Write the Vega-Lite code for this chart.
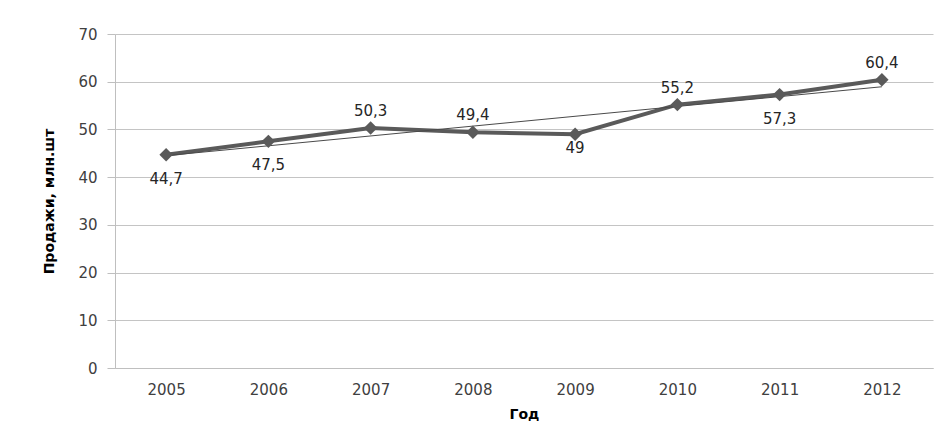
{
  "$schema": "https://vega.github.io/schema/vega-lite/v6.json",
  "width": 818,
  "height": 334,
  "autosize": {"type": "none"},
  "padding": {"left": 115, "top": 34, "right": 15, "bottom": 73},
  "background": "white",
  "data": {
    "values": [
      {"year": 2005, "sales": 44.7, "label": "44,7", "side": "below"},
      {"year": 2006, "sales": 47.5, "label": "47,5", "side": "below"},
      {"year": 2007, "sales": 50.3, "label": "50,3", "side": "above"},
      {"year": 2008, "sales": 49.4, "label": "49,4", "side": "above"},
      {"year": 2009, "sales": 49, "label": "49", "side": "near"},
      {"year": 2010, "sales": 55.2, "label": "55,2", "side": "above"},
      {"year": 2011, "sales": 57.3, "label": "57,3", "side": "below"},
      {"year": 2012, "sales": 60.4, "label": "60,4", "side": "above"}
    ]
  },
  "encoding": {
    "x": {
      "field": "year",
      "type": "ordinal",
      "scale": {"type": "point", "padding": 0.5},
      "axis": {
        "title": "Год",
        "labelAngle": 0,
        "ticks": false,
        "domainColor": "#bfbfbf",
        "labelPadding": 14,
        "titlePadding": 10,
        "grid": false
      }
    },
    "y": {
      "field": "sales",
      "type": "quantitative",
      "scale": {"domain": [0, 70], "nice": false, "zero": true},
      "axis": {
        "title": "Продажи, млн.шт",
        "values": [0, 10, 20, 30, 40, 50, 60, 70],
        "tickSize": 8,
        "tickColor": "#bfbfbf",
        "domainColor": "#bfbfbf",
        "labelPadding": 10,
        "titlePadding": 21,
        "grid": true,
        "gridColor": "#c4c4c4"
      }
    }
  },
  "layer": [
    {
      "mark": {"type": "line", "color": "#5a5a5a", "strokeWidth": 4}
    },
    {
      "transform": [{"regression": "sales", "on": "year"}],
      "mark": {"type": "line", "color": "#4a4a4a", "strokeWidth": 1}
    },
    {
      "mark": {"type": "point", "shape": "diamond", "filled": true, "color": "#5a5a5a", "opacity": 1, "size": 180}
    },
    {
      "transform": [{"filter": "datum.side === 'above'"}],
      "mark": {"type": "text", "dy": -17, "font": "DejaVu Sans", "fontSize": 15, "color": "#262626"},
      "encoding": {"text": {"field": "label"}}
    },
    {
      "transform": [{"filter": "datum.side === 'below'"}],
      "mark": {"type": "text", "dy": 24, "font": "DejaVu Sans", "fontSize": 15, "color": "#262626"},
      "encoding": {"text": {"field": "label"}}
    },
    {
      "transform": [{"filter": "datum.side === 'near'"}],
      "mark": {"type": "text", "dy": 14, "font": "DejaVu Sans", "fontSize": 15, "color": "#262626"},
      "encoding": {"text": {"field": "label"}}
    }
  ],
  "config": {
    "view": {"stroke": null},
    "axis": {
      "labelFont": "DejaVu Sans",
      "labelFontSize": 15,
      "labelColor": "#404040",
      "titleFont": "DejaVu Sans",
      "titleFontSize": 14,
      "titleFontWeight": "bold",
      "titleColor": "#000000"
    }
  }
}
